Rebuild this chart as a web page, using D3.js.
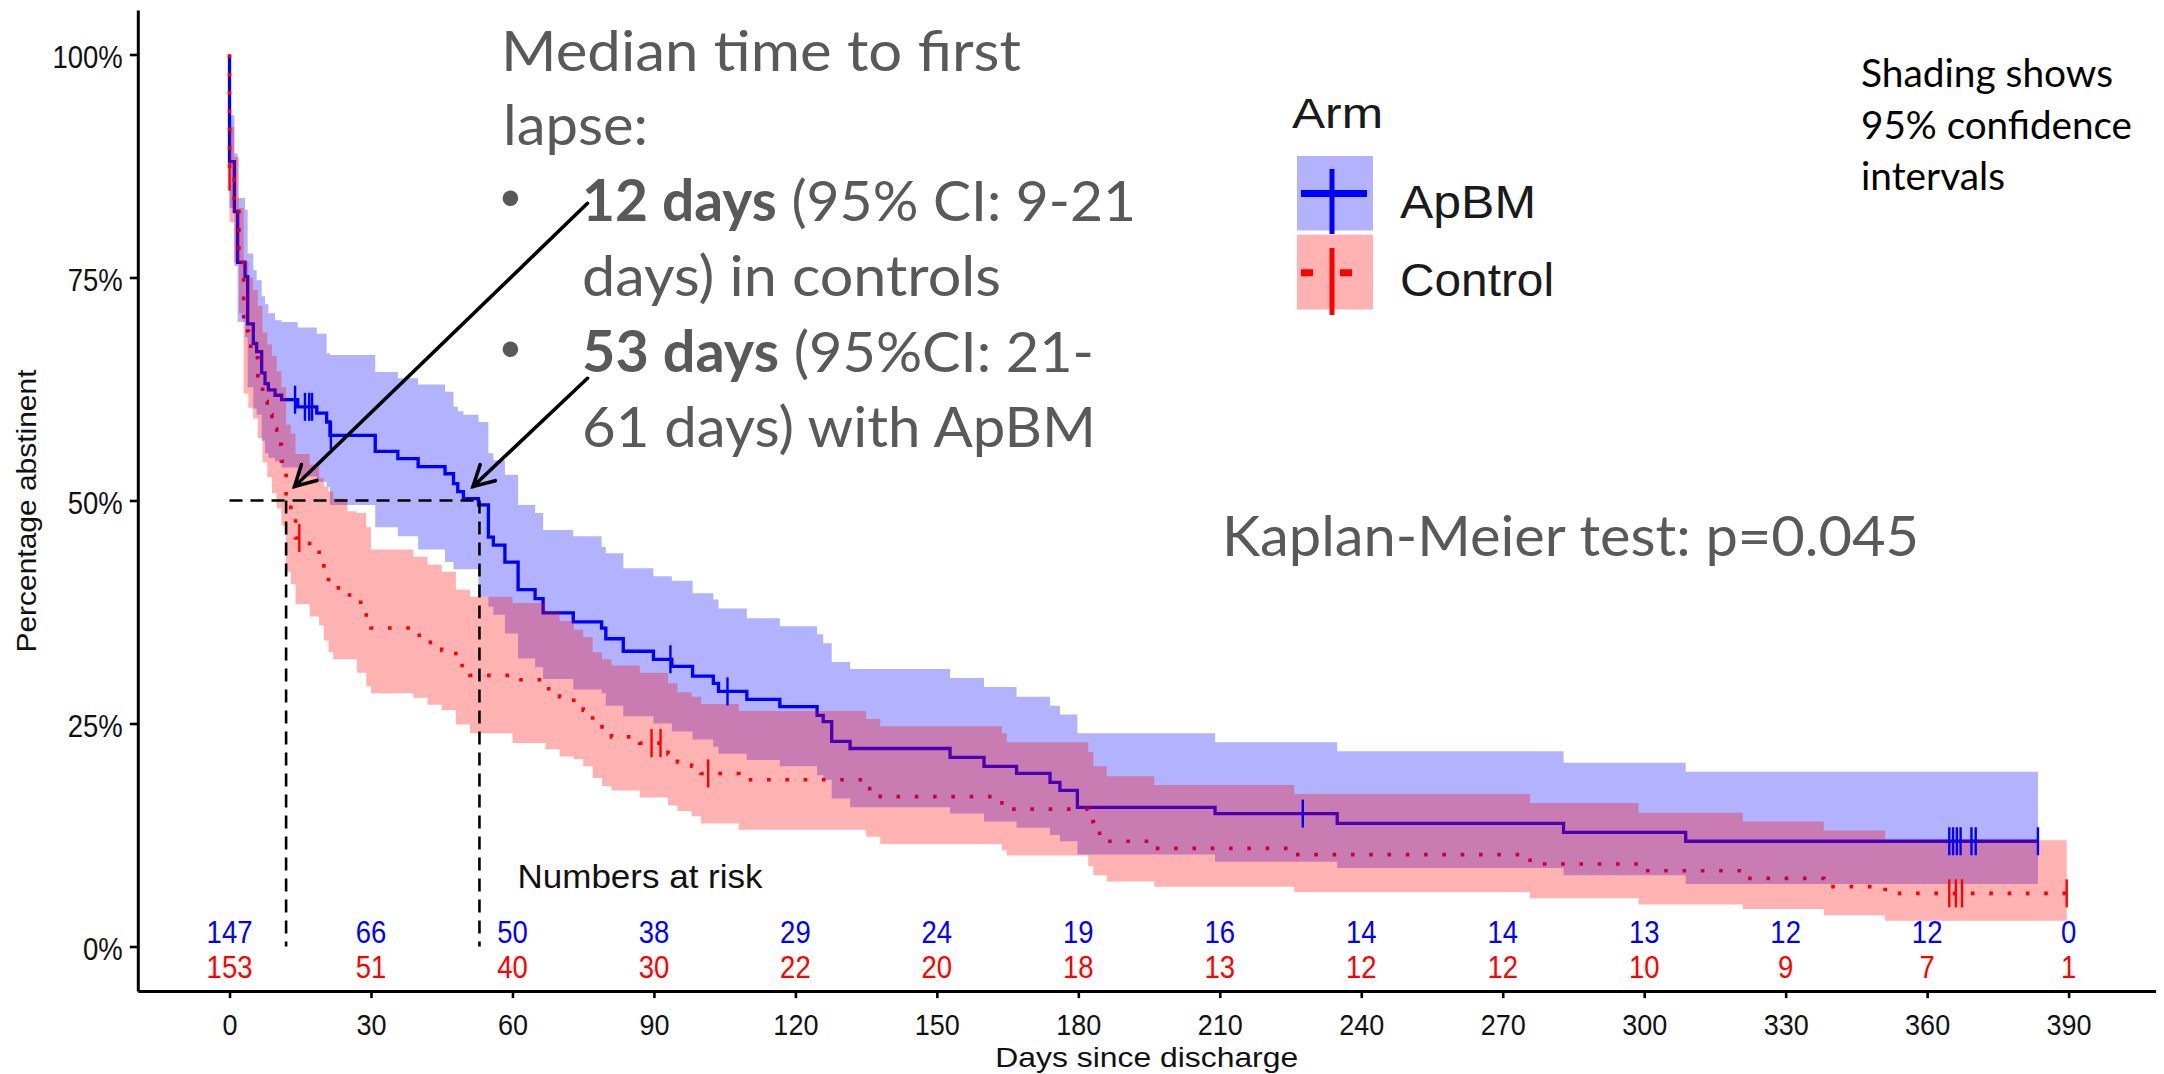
<!DOCTYPE html>
<html>
<head>
<meta charset="utf-8">
<title>Time to first lapse by arm</title>
<script src="https://cdn.jsdelivr.net/npm/d3@7/dist/d3.min.js"></script>
<style>
  html, body { margin: 0; padding: 0; background: #fff; }
  svg { display: block; }
</style>
</head>
<body>
<svg id="chart" width="2164" height="1074"></svg>
<script>
// ---------- Kaplan-Meier estimate, ApBM arm (day of each step, survival after it, 95% CI) ----------
const apbmTime  = [0, 1.03, 1.72, 3.29, 3.85, 5.05, 5.76, 6.82, 7.53, 8.24, 9.65, 11.06, 14.46, 18.5, 20.6,
                   21.3, 30.9, 35.7, 40.0, 45.7, 47.5, 48.4, 49.6, 52.8, 54.9, 55.95, 58.4, 61.2, 64.8, 66.5,
                   72.9, 78.9, 79.8, 83.5, 89.9, 93.8, 98.2, 102.6, 103.7, 109.7, 116.7, 124.6, 125.9, 127.7, 131.6,
                   152.8, 160.0, 166.9, 174.0, 176.1, 179.8, 209.0, 234.9, 282.9, 308.8];
const apbmSurv  = [0.880, 0.824, 0.767, 0.751, 0.698, 0.676, 0.667, 0.643, 0.631, 0.624, 0.618, 0.613, 0.605, 0.598, 0.588,
                   0.573, 0.555, 0.547, 0.538, 0.530, 0.519, 0.510, 0.502, 0.495, 0.459, 0.450, 0.431, 0.400, 0.390, 0.374,
                   0.364, 0.357, 0.345, 0.331, 0.322, 0.314, 0.303, 0.295, 0.286, 0.277, 0.269, 0.259, 0.252, 0.230, 0.222,
                   0.212, 0.202, 0.194, 0.184, 0.175, 0.156, 0.149, 0.138, 0.128, 0.118];
const apbmUpper = [0.932, 0.889, 0.839, 0.826, 0.777, 0.758, 0.747, 0.729, 0.720, 0.710, 0.702, 0.700, 0.694, 0.687, 0.665,
                   0.663, 0.644, 0.637, 0.630, 0.622, 0.605, 0.600, 0.596, 0.588, 0.553, 0.545, 0.529, 0.495, 0.486, 0.467,
                   0.460, 0.448, 0.441, 0.424, 0.415, 0.410, 0.396, 0.389, 0.379, 0.368, 0.359, 0.350, 0.340, 0.319, 0.311,
                   0.301, 0.291, 0.280, 0.270, 0.260, 0.239, 0.229, 0.219, 0.206, 0.196];
const apbmLower = [0.828, 0.763, 0.700, 0.683, 0.627, 0.603, 0.596, 0.567, 0.553, 0.548, 0.544, 0.537, 0.527, 0.521, 0.515,
                   0.495, 0.470, 0.460, 0.445, 0.431, 0.423, 0.423, 0.423, 0.392, 0.381, 0.372, 0.351, 0.323, 0.313, 0.300,
                   0.288, 0.284, 0.270, 0.258, 0.250, 0.241, 0.232, 0.224, 0.216, 0.209, 0.202, 0.192, 0.187, 0.166, 0.156,
                   0.149, 0.140, 0.133, 0.125, 0.118, 0.103, 0.095, 0.088, 0.080, 0.070];
const apbmCensor = [13.9, 16.0, 16.9, 17.5, 21.5, 93.5, 105.6, 227.6, 364.7, 365.5, 366.3, 367.1, 369.4, 370.3, 383.5];
const apbmEnd = 383.5;

// ---------- Kaplan-Meier estimate, Control arm ----------
const ctrlTime  = [0, 1, 2, 3, 4, 5, 6, 7, 8, 9, 10, 11, 12, 13, 14,
                   17, 19, 20, 21, 22, 25, 27, 29, 30, 39, 42, 45, 48, 51, 60,
                   67, 70, 73, 75, 77, 79, 81, 87, 93, 95, 98, 100, 108, 135, 138,
                   163.8, 164.8, 182.1, 183.2, 186.0, 196.1, 225.8, 275.8, 298.8, 320.9, 338.1, 351.1];
const ctrlSurv  = [0.863, 0.824, 0.767, 0.690, 0.673, 0.660, 0.640, 0.611, 0.596, 0.580, 0.563, 0.544, 0.497, 0.484, 0.458,
                   0.447, 0.435, 0.420, 0.406, 0.402, 0.394, 0.386, 0.369, 0.357, 0.349, 0.341, 0.332, 0.315, 0.304, 0.299,
                   0.289, 0.280, 0.273, 0.265, 0.250, 0.243, 0.235, 0.228, 0.216, 0.207, 0.202, 0.194, 0.187, 0.177, 0.168,
                   0.161, 0.154, 0.140, 0.127, 0.118, 0.110, 0.103, 0.0925, 0.085, 0.0764, 0.0671, 0.0596];
const ctrlUpper = [0.919, 0.885, 0.828, 0.768, 0.750, 0.736, 0.718, 0.688, 0.675, 0.662, 0.645, 0.627, 0.585, 0.575, 0.552,
                   0.540, 0.525, 0.515, 0.510, 0.502, 0.488, 0.486, 0.470, 0.445, 0.437, 0.428, 0.420, 0.400, 0.392, 0.385,
                   0.375, 0.365, 0.355, 0.347, 0.330, 0.322, 0.315, 0.307, 0.295, 0.285, 0.280, 0.272, 0.264, 0.255, 0.247,
                   0.239, 0.229, 0.218, 0.202, 0.191, 0.181, 0.171, 0.161, 0.150, 0.140, 0.130, 0.119];
const ctrlLower = [0.812, 0.767, 0.710, 0.620, 0.604, 0.592, 0.570, 0.543, 0.526, 0.508, 0.491, 0.472, 0.420, 0.406, 0.384,
                   0.370, 0.360, 0.343, 0.330, 0.322, 0.322, 0.307, 0.292, 0.284, 0.279, 0.271, 0.265, 0.249, 0.239, 0.228,
                   0.221, 0.213, 0.210, 0.202, 0.189, 0.180, 0.175, 0.167, 0.158, 0.152, 0.146, 0.138, 0.131, 0.123, 0.115,
                   0.108, 0.102, 0.090, 0.080, 0.073, 0.067, 0.061, 0.054, 0.047, 0.042, 0.035, 0.029];
const ctrlCensor = [0, 14.8, 89.5, 91.4, 101.5, 364.7, 366.1, 367.4, 389.6];
const ctrlEnd = 389.6;

// ---------- risk table, ticks, medians ----------
const riskDays   = [0, 30, 60, 90, 120, 150, 180, 210, 240, 270, 300, 330, 360, 390];
const apbmAtRisk = [147, 66, 50, 38, 29, 24, 19, 16, 14, 14, 13, 12, 12, 0];
const ctrlAtRisk = [153, 51, 40, 30, 22, 20, 18, 13, 12, 12, 10, 9, 7, 1];
const survTicks  = [0, 0.25, 0.5, 0.75, 1];
const medianDays = [12, 53];
const armNames   = ["ApBM", "Control"];

// ---------- styling constants ----------
const RFONT = "'Liberation Sans', Arial, sans-serif";
const NFONT = "Lato, 'Open Sans', sans-serif";
const STRETCH = 1.12;
const BLUE = "#0000ff", RED = "#ff0000", NOTE = "#595959";

const svg = d3.select("#chart");

const x = d3.scaleLinear().domain([-19.45, 408.45]).range([137.8, 2155.6]);
const y = d3.scaleLinear().domain([-0.05, 1.05]).range([991.1, 9.9]);

function stepPoints(time, surv, end) {
  const pts = [{ t: 0, s: 1 }];
  time.forEach((t, i) => pts.push({ t, s: surv[i] }));
  pts.push({ t: end, s: surv[surv.length - 1] });
  return pts;
}
function bandPoints(time, upper, lower, end) {
  const pts = time.map((t, i) => ({ t, hi: upper[i], lo: lower[i] }));
  pts.push({ t: end, hi: upper[upper.length - 1], lo: lower[lower.length - 1] });
  return pts;
}
function survAt(time, surv, t) {
  let s = 1;
  for (let i = 0; i < time.length; i++) if (time[i] <= t) s = surv[i];
  return s;
}

const stepLine = d3.line().curve(d3.curveStepAfter).x(d => x(d.t)).y(d => y(d.s));
const band = d3.area().curve(d3.curveStepAfter).x(d => x(d.t)).y0(d => y(d.lo)).y1(d => y(d.hi));

const plot = svg.append("g");

// survival curves
plot.append("path")
  .datum(stepPoints(apbmTime, apbmSurv, apbmEnd))
  .attr("d", stepLine).attr("fill", "none")
  .attr("stroke", BLUE).attr("stroke-width", 3.3);
plot.append("path")
  .datum(stepPoints(ctrlTime, ctrlSurv, ctrlEnd))
  .attr("d", stepLine).attr("fill", "none")
  .attr("stroke", RED).attr("stroke-width", 3.6)
  .attr("stroke-dasharray", "3.6 14.7");

// confidence ribbons laid over the curves
plot.append("path")
  .datum(bandPoints(apbmTime, apbmUpper, apbmLower, apbmEnd))
  .attr("d", band).attr("fill", BLUE).attr("fill-opacity", 0.3);
plot.append("path")
  .datum(bandPoints(ctrlTime, ctrlUpper, ctrlLower, ctrlEnd))
  .attr("d", band).attr("fill", RED).attr("fill-opacity", 0.3);

// censoring ticks
function censorTicks(times, time, surv, color, cls) {
  plot.selectAll("line." + cls).data(times).join("line")
    .attr("class", cls)
    .attr("x1", d => x(d)).attr("x2", d => x(d))
    .attr("y1", d => y(survAt(time, surv, d)) - 14)
    .attr("y2", d => y(survAt(time, surv, d)) + 14)
    .attr("stroke", color).attr("stroke-width", 2.4);
}
censorTicks(apbmCensor, apbmTime, apbmSurv, BLUE, "cens-apbm");
censorTicks(ctrlCensor, ctrlTime, ctrlSurv, RED, "cens-ctrl");

// median guide lines
const guides = svg.append("g").attr("stroke", "#000").attr("stroke-width", 2.6)
  .attr("stroke-dasharray", "13 8").attr("fill", "none");
guides.append("line")
  .attr("x1", x(0)).attr("x2", x(d3.max(medianDays)))
  .attr("y1", y(0.5)).attr("y2", y(0.5));
guides.selectAll("line.v").data(medianDays).join("line").attr("class", "v")
  .attr("x1", d => x(d)).attr("x2", d => x(d))
  .attr("y1", y(0.5)).attr("y2", y(0));

// axes
const gx = svg.append("g").attr("transform", `translate(0,${y(-0.05)})`)
  .call(d3.axisBottom(x).tickValues(riskDays).tickSize(7).tickSizeOuter(0).tickFormat(d3.format("d")));
gx.attr("font-family", RFONT).attr("font-size", 27);
gx.select(".domain").attr("stroke", "#000").attr("stroke-width", 3);
gx.selectAll(".tick line").attr("stroke", "#000").attr("stroke-width", 2.6);
gx.selectAll(".tick text").attr("y", null).attr("dy", null)
  .attr("fill", "#111")
  .attr("transform", `translate(0,43.5) scale(1,${STRETCH})`);

const gy = svg.append("g").attr("transform", `translate(${x(-19.45)},0)`)
  .call(d3.axisLeft(y).tickValues(survTicks).tickSize(8).tickSizeOuter(0).tickPadding(7).tickFormat(d3.format(".0%")));
gy.attr("font-family", RFONT).attr("font-size", 27.5);
gy.select(".domain").attr("stroke", "#000").attr("stroke-width", 3);
gy.selectAll(".tick line").attr("stroke", "#000").attr("stroke-width", 2.6);
gy.selectAll(".tick text").attr("dy", null)
  .attr("fill", "#111")
  .attr("transform", `translate(0,12.7) scale(1,${STRETCH})`);

// axis titles
svg.append("text")
  .attr("transform", `translate(${(x(-19.45) + x(408.45)) / 2},1067) scale(1,1.08)`)
  .attr("text-anchor", "middle").attr("font-family", RFONT).attr("font-size", 26)
  .attr("textLength", 303).attr("lengthAdjust", "spacingAndGlyphs")
  .attr("fill", "#111").text("Days since discharge");
svg.append("text")
  .attr("transform", "translate(36,511) rotate(-90)")
  .attr("text-anchor", "middle").attr("font-family", RFONT).attr("font-size", 27)
  .attr("textLength", 283).attr("lengthAdjust", "spacingAndGlyphs")
  .attr("fill", "#111").text("Percentage abstinent");

// numbers at risk
svg.append("text")
  .attr("transform", `translate(517.5,887.7) scale(1,${STRETCH})`)
  .attr("font-family", RFONT).attr("font-size", 29.5)
  .attr("textLength", 245).attr("lengthAdjust", "spacingAndGlyphs")
  .attr("fill", "#111").text("Numbers at risk");
function riskRow(values, color, baseline) {
  svg.append("g").selectAll("text").data(values).join("text")
    .attr("transform", (d, i) => `translate(${x(riskDays[i])},${baseline}) scale(1,${STRETCH})`)
    .attr("text-anchor", "middle").attr("font-family", RFONT).attr("font-size", 27.5)
    .attr("fill", color).text(d => d);
}
riskRow(apbmAtRisk, BLUE, 943);
riskRow(ctrlAtRisk, RED, 977.7);

// legend
const lg = svg.append("g");
lg.append("text").attr("x", 1292).attr("y", 128).attr("font-family", RFONT).attr("font-size", 42)
  .attr("textLength", 91).attr("lengthAdjust", "spacingAndGlyphs").attr("fill", "#1a1a1a").text("Arm");
lg.append("rect").attr("x", 1297).attr("y", 156).attr("width", 76).attr("height", 74.5)
  .attr("fill", BLUE).attr("fill-opacity", 0.3);
lg.append("line").attr("x1", 1301).attr("x2", 1367).attr("y1", 193.5).attr("y2", 193.5)
  .attr("stroke", BLUE).attr("stroke-width", 7);
lg.append("line").attr("x1", 1332).attr("x2", 1332).attr("y1", 169).attr("y2", 234)
  .attr("stroke", BLUE).attr("stroke-width", 5);
lg.append("rect").attr("x", 1297).attr("y", 234.7).attr("width", 76).attr("height", 74.8)
  .attr("fill", RED).attr("fill-opacity", 0.3);
lg.append("line").attr("x1", 1301).attr("x2", 1367).attr("y1", 272.7).attr("y2", 272.7)
  .attr("stroke", RED).attr("stroke-width", 7).attr("stroke-dasharray", "12 27");
lg.append("line").attr("x1", 1332).attr("x2", 1332).attr("y1", 248).attr("y2", 315)
  .attr("stroke", RED).attr("stroke-width", 5);
lg.selectAll("text.key").data(armNames).join("text").attr("class", "key")
  .attr("x", 1400).attr("y", (d, i) => i === 0 ? 217.5 : 295.5)
  .attr("font-family", RFONT).attr("font-size", 46)
  .attr("textLength", (d, i) => i === 0 ? 136 : 154).attr("lengthAdjust", "spacingAndGlyphs")
  .attr("fill", "#1a1a1a").text(d => d);

// notes
const noteLines = [
  { x: 501, y: 71,  len: 520, parts: [{ t: "Median time to first" }] },
  { x: 503, y: 145, len: 145, parts: [{ t: "lapse:" }] },
  { x: 582, y: 221, len: 554, parts: [{ t: "12 days", b: true }, { t: " (95% CI: 9-21" }], bullet: true },
  { x: 582, y: 296, len: 419, parts: [{ t: "days) in controls" }] },
  { x: 582, y: 372, len: 512, parts: [{ t: "53 days", b: true }, { t: " (95%CI: 21-" }], bullet: true },
  { x: 582, y: 447, len: 514, parts: [{ t: "61 days) with ApBM" }] }
];
const notes = svg.append("g").attr("font-family", NFONT).attr("font-size", 57).attr("fill", NOTE);
noteLines.forEach(l => {
  const t = notes.append("text").attr("x", l.x).attr("y", l.y)
    .attr("textLength", l.len).attr("lengthAdjust", "spacingAndGlyphs");
  l.parts.forEach(p => t.append("tspan").attr("font-weight", p.b ? 700 : 400).text(p.t));
  if (l.bullet) notes.append("circle").attr("cx", 510.4).attr("cy", l.y - 22.7).attr("r", 7.8);
});
notes.append("text").attr("x", 1222).attr("y", 556)
  .attr("textLength", 697).attr("lengthAdjust", "spacingAndGlyphs")
  .text("Kaplan-Meier test: p=0.045");

const shade = svg.append("g").attr("font-family", NFONT).attr("font-size", 38).attr("fill", "#000");
[["Shading shows", 87, 252], ["95% confidence", 139, 271], ["intervals", 190, 144]].forEach(([s, yy, len]) => {
  shade.append("text").attr("x", 1861).attr("y", yy)
    .attr("textLength", len).attr("lengthAdjust", "spacingAndGlyphs").text(s);
});

// arrows from the note to each median
function arrow(x1, y1, x2, y2) {
  const g = svg.append("g").attr("stroke", "#000").attr("stroke-width", 3.6).attr("fill", "none")
    .attr("stroke-linecap", "round").attr("stroke-linejoin", "miter");
  g.append("line").attr("x1", x1).attr("y1", y1).attr("x2", x2).attr("y2", y2);
  const a = Math.atan2(y1 - y2, x1 - x2), L = 23, sp = 0.5;
  g.append("polyline").attr("points", [
    [x2 + L * Math.cos(a + sp), y2 + L * Math.sin(a + sp)],
    [x2, y2],
    [x2 + L * Math.cos(a - sp), y2 + L * Math.sin(a - sp)]
  ].map(p => p.join(",")).join(" "));
}
arrow(587.5, 203.3, x(medianDays[0]) + 8.5, y(0.5) - 14);
arrow(587.5, 378.3, x(medianDays[1]) - 6.4, y(0.5) - 14);
</script>
</body>
</html>
